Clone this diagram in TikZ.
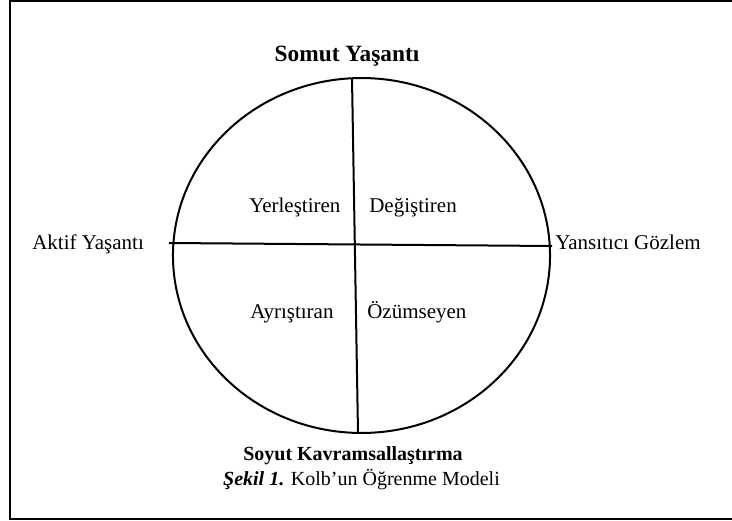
\documentclass[tikz,border=0pt]{standalone}
\usepackage{fontspec}
\setmainfont{Liberation Serif}
\usetikzlibrary{positioning}
\begin{document}
\begin{tikzpicture}[x=0.75pt,y=-0.75pt]
\useasboundingbox (0,0) rectangle (732,521);
\tikzstyle{quad}=[inner sep=0pt, anchor=base west, font=\fontsize{15.75}{18}\selectfont]
\tikzstyle{pole}=[inner sep=0pt, anchor=base, font=\fontsize{15}{18}\selectfont\bfseries]
\tikzstyle{ring}=[line width=1.5pt]
\draw[line width=1pt] (10,1) rectangle (760,519);
\coordinate (ctr) at (361.5,255.5);
\draw[ring] (ctr) ellipse [x radius=141.4pt, y radius=133.1pt];
\coordinate (top) at (352,78);
\coordinate (bot) at (358,433);
\coordinate (lft) at (169,243);
\coordinate (rgt) at (552,246);
\draw[ring] (top) -- (bot);
\draw[ring] (lft) -- (rgt);
\node[pole, font=\fontsize{17.5}{20}\selectfont\bfseries] (somut) at (347,61) {Somut Yaşantı};
\node[pole] (soyut) at (353,460) {Soyut Kavramsallaştırma};
\node[quad] (aktif) at (32,249) {Aktif Yaşantı};
\node[quad] (yansitici) at (555,249) {Yansıtıcı Gözlem};
\node[quad] (yer) at (249,212) {Yerleştiren};
\node[quad] (deg) at (369,212) {Değiştiren};
\node[quad] (ayr) at (250,318) {Ayrıştıran};
\node[quad] (ozu) at (367,318) {Özümseyen};
\node[pole, font=\fontsize{15}{18}\selectfont] (sekil) at (361.5,485) {\textbf{\textit{Şekil 1.}} Kolb’un Öğrenme Modeli};
\end{tikzpicture}
\end{document}
